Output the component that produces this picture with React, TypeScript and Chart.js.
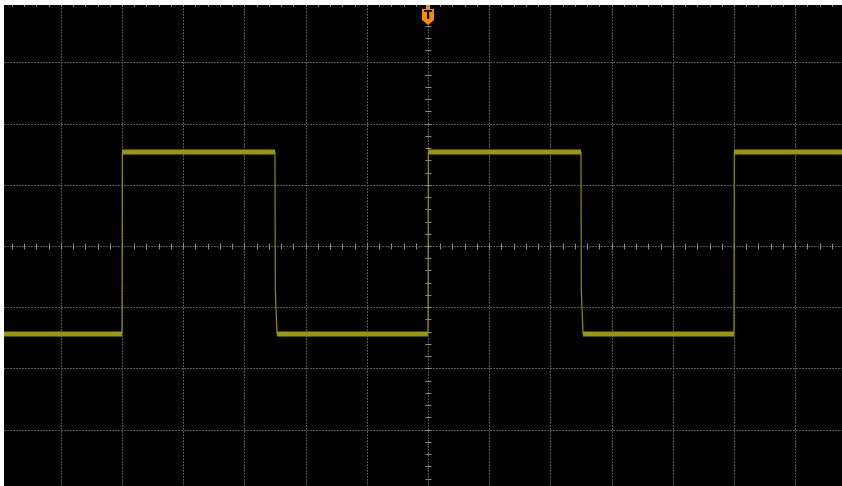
import React, { useEffect, useRef } from "react";
import { Chart, registerables } from "chart.js";

Chart.register(...registerables);

// Oscilloscope screen, units = divisions
const timeDiv = [-6.93, -5.0, -4.995, -2.5, -2.495, -2.467, 0, 0.005, 2.5, 2.505, 2.533, 5.0, 5.005, 6.77];
const voltDiv = [-1.44, -1.44, 1.535, 1.535, -0.72, -1.44, -1.44, 1.535, 1.535, -0.72, -1.44, -1.44, 1.535, 1.535];
const xGrid = [-6, -5, -4, -3, -2, -1, 0, 1, 2, 3, 4, 5, 6];
const yGrid = [-3, -2, -1, 0, 1, 2, 3];
const xRange = [-6.928, 6.765];
const yRange = [-3.922, 3.938];
const triggerTime = 0;
const triggerLabel = "T";

const isEdge = (c: any) => Math.abs(c.p0.parsed.x - c.p1.parsed.x) < 0.05;

const scopePlugin = {
  id: "scope",
  beforeDraw(chart: any) {
    const { ctx, chartArea: a, scales } = chart;
    const xs = scales.x, ys = scales.y;
    ctx.save();
    ctx.fillStyle = "#ffffff";
    ctx.fillRect(0, 0, chart.width, chart.height);
    ctx.fillStyle = "#000000";
    ctx.fillRect(a.left, a.top, a.right - a.left, a.bottom - a.top);
    ctx.beginPath();
    ctx.rect(a.left, a.top, a.right - a.left, a.bottom - a.top);
    ctx.clip();
    ctx.lineWidth = 1;
    ctx.strokeStyle = "#555555";
    ctx.setLineDash([2, 1]);
    xGrid.forEach((v) => {
      const px = Math.round(xs.getPixelForValue(v)) + 0.5;
      ctx.beginPath();
      ctx.moveTo(px, a.top);
      ctx.lineTo(px, a.bottom);
      ctx.stroke();
    });
    yGrid.forEach((v) => {
      const py = Math.round(ys.getPixelForValue(v)) + 0.5;
      ctx.beginPath();
      ctx.moveTo(a.left, py);
      ctx.lineTo(a.right, py);
      ctx.stroke();
    });
    ctx.setLineDash([]);
    ctx.strokeStyle = "#8a8a8a";
    const cx = Math.round(xs.getPixelForValue(0)) + 0.5;
    const cy = Math.round(ys.getPixelForValue(0)) + 0.5;
    for (let k = Math.ceil(xRange[0] * 5); k <= Math.floor(xRange[1] * 5); k++) {
      const px = Math.round(xs.getPixelForValue(k / 5)) + 0.5;
      ctx.beginPath();
      ctx.moveTo(px, cy - 3);
      ctx.lineTo(px, cy + 3);
      ctx.stroke();
      ctx.fillStyle = "#8a8a8a";
      ctx.fillRect(px - 0.5, a.top, 1, 2);
    }
    for (let k = Math.ceil(yRange[0] * 5); k <= Math.floor(yRange[1] * 5); k++) {
      const py = Math.round(ys.getPixelForValue(k / 5)) + 0.5;
      ctx.beginPath();
      ctx.moveTo(cx - 3, py);
      ctx.lineTo(cx + 3, py);
      ctx.stroke();
    }
    ctx.restore();
  },
  afterDraw(chart: any) {
    const { ctx, chartArea: a, scales } = chart;
    const tx = Math.round(scales.x.getPixelForValue(triggerTime));
    const top = a.top;
    ctx.save();
    ctx.fillStyle = "#ff8c00";
    ctx.fillRect(tx - 2, top, 4, 4);
    ctx.beginPath();
    ctx.moveTo(tx - 6, top + 4);
    ctx.lineTo(tx + 6, top + 4);
    ctx.lineTo(tx + 6, top + 15);
    ctx.lineTo(tx, top + 20);
    ctx.lineTo(tx - 6, top + 15);
    ctx.closePath();
    ctx.fill();
    ctx.fillStyle = "#000000";
    ctx.font = "bold 12px 'DejaVu Sans'";
    ctx.textAlign = "center";
    ctx.textBaseline = "middle";
    ctx.fillText(triggerLabel, tx, top + 11);
    ctx.restore();
  },
};

export default function App() {
  const ref = useRef<HTMLCanvasElement | null>(null);
  useEffect(() => {
    if (!ref.current) return;
    const pts = timeDiv.map((t, i) => ({ x: t, y: voltDiv[i] }));
    const chart = new Chart(ref.current, {
      type: "line",
      data: {
        datasets: [
          {
            data: pts,
            borderColor: "#9a9a00",
            borderWidth: 5,
            pointRadius: 0,
            tension: 0,
            borderCapStyle: "butt",
            segment: {
              borderWidth: (c: any) => (isEdge(c) ? 1.2 : 5),
              borderColor: (c: any) => (isEdge(c) ? "#8c8c00" : "#9a9a00"),
            },
          } as any,
          {
            data: pts,
            borderColor: "#b8b814",
            borderWidth: 2,
            pointRadius: 0,
            tension: 0,
            segment: {
              borderColor: (c: any) => (isEdge(c) ? "rgba(0,0,0,0)" : "#b8b814"),
            },
          } as any,
        ],
      },
      options: {
        animation: false,
        responsive: false,
        events: [],
        layout: { padding: { left: 4, top: 5, right: 0, bottom: 0 } },
        plugins: { legend: { display: false }, tooltip: { enabled: false } },
        scales: {
          x: { type: "linear", display: false, min: xRange[0], max: xRange[1] },
          y: { type: "linear", display: false, min: yRange[0], max: yRange[1] },
        },
      },
      plugins: [scopePlugin],
    });
    return () => chart.destroy();
  }, []);
  return (
    <div style={{ position: "fixed", left: 0, top: 0, width: 842, height: 486, background: "#fff" }}>
      <canvas ref={ref} width={842} height={486} style={{ display: "block", width: 842, height: 486 }} />
    </div>
  );
}
